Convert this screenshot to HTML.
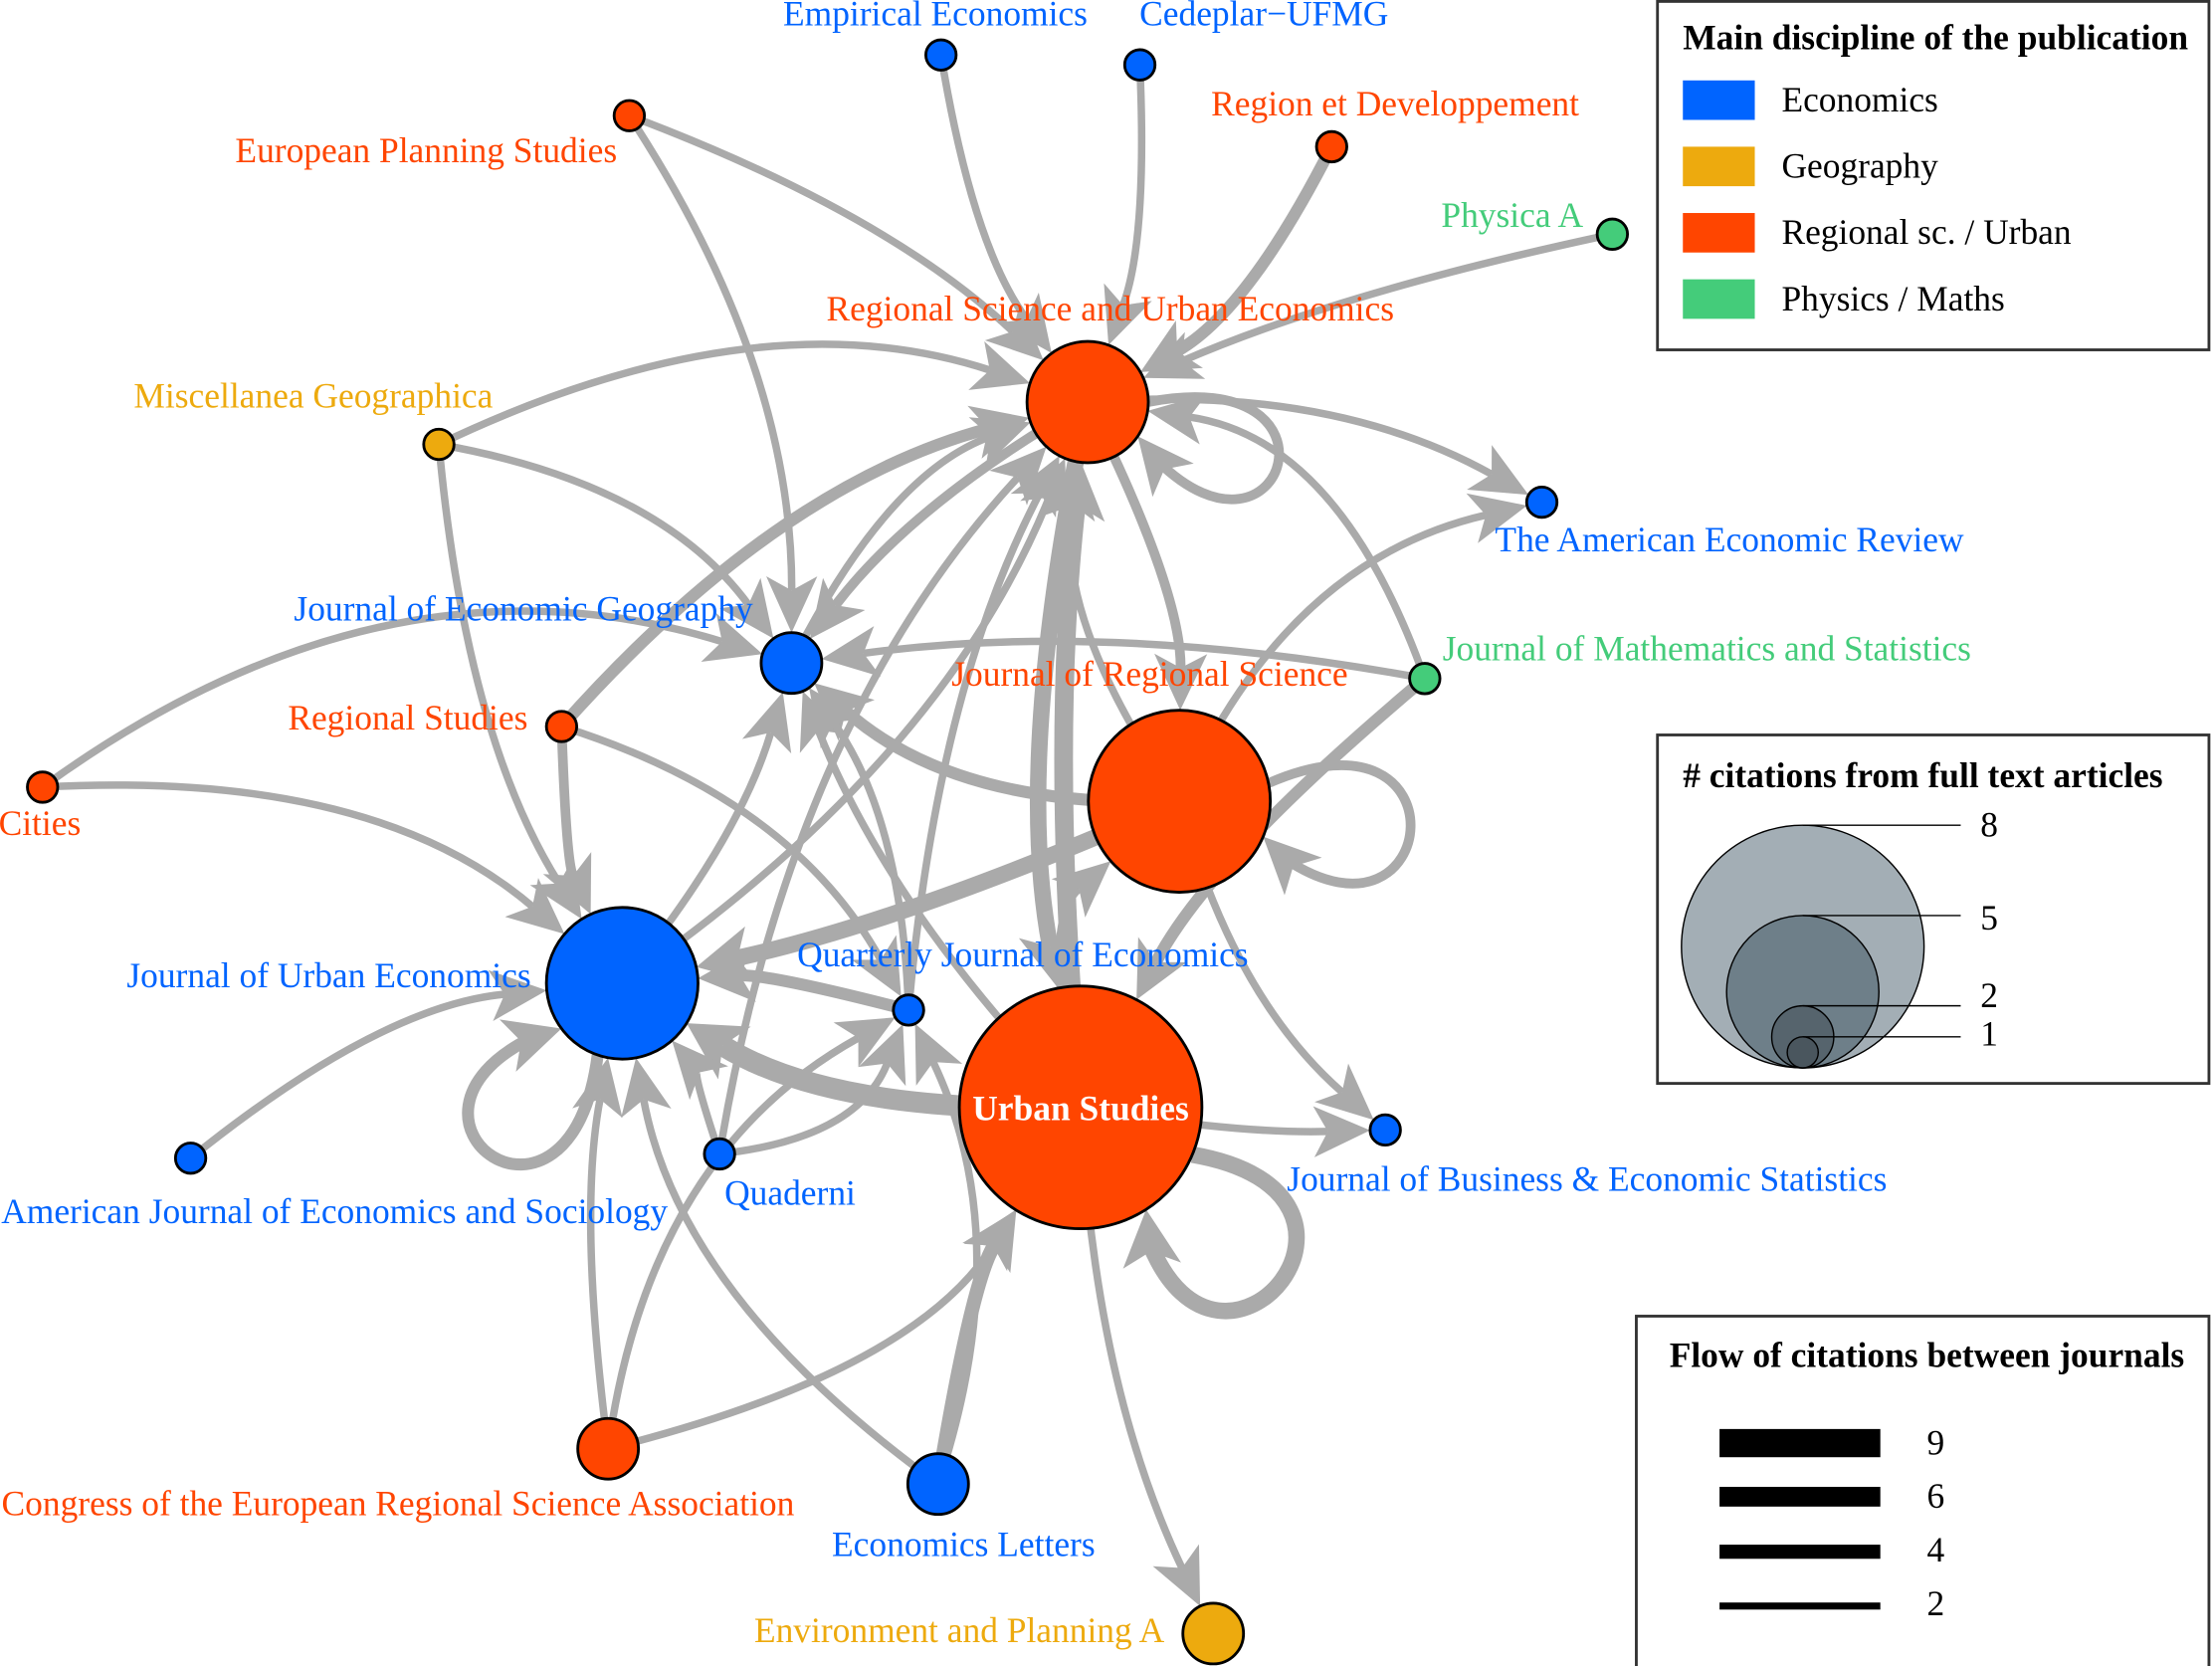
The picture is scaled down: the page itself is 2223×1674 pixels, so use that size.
<!DOCTYPE html>
<html><head><meta charset="utf-8"><style>
html,body{margin:0;padding:0;background:#fff}
svg{display:block}
text{font-family:"Liberation Serif",serif}
</style></head><body>
<svg id="chart" width="2223" height="1674" viewBox="0 0 1568 1181" xmlns="http://www.w3.org/2000/svg">
<g id="edges"></g>
<g id="nodes"></g>
<g id="labels"></g>
<g>
<rect x="1175" y="1" width="391" height="247" fill="#fff" stroke="#333" stroke-width="2"/>
<text x="1193" y="35" font-size="25" font-weight="bold">Main discipline of the publication</text>
<rect x="1193" y="57" width="51" height="28" fill="#0064ff"/><text x="1263" y="79" font-size="25">Economics</text>
<rect x="1193" y="104" width="51" height="28" fill="#edaa0e"/><text x="1263" y="126" font-size="25">Geography</text>
<rect x="1193" y="151" width="51" height="28" fill="#ff4500"/><text x="1263" y="173" font-size="25">Regional sc. / Urban</text>
<rect x="1193" y="198" width="51" height="28" fill="#44cc7a"/><text x="1263" y="220" font-size="25">Physics / Maths</text>
</g>
<g>
<rect x="1175" y="521" width="391" height="247" fill="#fff" stroke="#333" stroke-width="2"/>
<text x="1193" y="558" font-size="25" font-weight="bold"># citations from full text articles</text>
<circle cx="1278" cy="671" r="86" fill="#a3aeb5" stroke="#000" stroke-width="1"/>
<circle cx="1278" cy="703" r="54" fill="#6e7f89" stroke="#000" stroke-width="1"/>
<circle cx="1278" cy="735" r="22" fill="#56646d" stroke="#000" stroke-width="1"/>
<circle cx="1278" cy="746" r="11" fill="#4a565e" stroke="#000" stroke-width="1"/>
<g stroke="#000" stroke-width="1"><line x1="1278" y1="585" x2="1390" y2="585"/><line x1="1278" y1="649" x2="1390" y2="649"/><line x1="1278" y1="713" x2="1390" y2="713"/><line x1="1278" y1="735" x2="1390" y2="735"/></g>
<text x="1404" y="593" font-size="25">8</text><text x="1404" y="659" font-size="25">5</text><text x="1404" y="714" font-size="25">2</text><text x="1404" y="741" font-size="25">1</text>
</g>
<g>
<rect x="1160" y="933" width="406" height="260" fill="#fff" stroke="#333" stroke-width="2"/>
<text x="1366" y="969" font-size="25" font-weight="bold" text-anchor="middle">Flow of citations between journals</text>
<rect x="1219" y="1013" width="114" height="20" fill="#000"/><text x="1366" y="1031" font-size="25">9</text>
<rect x="1219" y="1054" width="114" height="14" fill="#000"/><text x="1366" y="1069" font-size="25">6</text>
<rect x="1219" y="1095" width="114" height="10" fill="#000"/><text x="1366" y="1107" font-size="25">4</text>
<rect x="1219" y="1136" width="114" height="5" fill="#000"/><text x="1366" y="1145" font-size="25">2</text>
</g>
</svg>
<script>
const nodeIds=["EmpEcon","Cedeplar","EPS","RegDev","PhysA","RSUE","Misc","AER","JEG","JMS","RS","Cities","JRS","JUE","QJE","US","Quad","AJES","JBES","CERSA","EL","EPA"];
const nodeNames=["Empirical Economics","Cedeplar\u2212UFMG","European Planning Studies","Region et Developpement","Physica A","Regional Science and Urban Economics","Miscellanea Geographica","The American Economic Review","Journal of Economic Geography","Journal of Mathematics and Statistics","Regional Studies","Cities","Journal of Regional Science","Journal of Urban Economics","Quarterly Journal of Economics","Urban Studies","Quaderni","American Journal of Economics and Sociology","Journal of Business & Economic Statistics","Congress of the European Regional Science Association","Economics Letters","Environment and Planning A"];
const nodeX=[667,808,446,944,1143,771,311,1093,561,1010,398,30,836,441,644,766,510,135,982,431,665,860];
const nodeY=[39,46,82,104,166,285,315,356,470,481,515,558,568,697,716,785,818,821,801,1027,1052,1158];
const nodeCites=[1,1,1,1,1,4,1,1,2,1,1,1,6,5,1,8,1,1,1,2,2,2];
const nodeDisc=["eco","eco","reg","reg","phy","reg","geo","eco","eco","phy","reg","reg","reg","eco","eco","reg","eco","eco","eco","reg","eco","geo"];
const labelX=[663,896,302,989,1072,787,222,1226,371,1210,289,28,815,233,725,766,560,237,1125,282,683,680];
const labelY=[18,18,115,82,161,227,289,391,440,468,517,592,486,700,685,794,854,867,844,1074,1103,1164];
const edgeFrom=["EmpEcon","Cedeplar","EPS","EPS","RegDev","PhysA","Misc","Misc","Misc","RSUE","RSUE","RSUE","RSUE","JEG","JMS","JMS","JMS","Cities","Cities","RS","RS","RS","JRS","JRS","JRS","JRS","JRS","JUE","JUE","QJE","US","US","US","US","US","US","QJE","QJE","Quad","Quad","Quad","AJES","CERSA","CERSA","CERSA","EL","EL","EL","JUE","JRS","US","RSUE"];
const edgeTo=["RSUE","RSUE","JEG","RSUE","RSUE","RSUE","RSUE","JEG","JUE","AER","JEG","JRS","US","RSUE","RSUE","JEG","US","JEG","JUE","RSUE","JUE","QJE","JEG","AER","JUE","JBES","RSUE","RSUE","JEG","JUE","JUE","JEG","RSUE","JBES","EPA","JRS","RSUE","JEG","JUE","QJE","RSUE","JUE","JUE","US","QJE","US","JUE","QJE","JUE","JRS","US","RSUE"];
const edgeWeight=[3,3,3,3,5,3,3,3,3,3,4,4,7,3,3,3,5,3,3,5,4,3,5,3,7,3,3,3,3,5,9,3,8,3,3,3,3,3,3,3,3,3,3,3,3,6,3,3,5,4,7,4];
const edgeBend=[0.12,-0.1,-0.15,-0.1,-0.15,0.05,-0.2,-0.2,0.12,-0.15,0.1,-0.12,0.1,-0.2,0.3,0.08,0.1,-0.25,-0.2,-0.15,0.1,-0.2,-0.2,-0.25,-0.05,0.15,-0.2,0.15,0.1,0.08,-0.15,-0.1,-0.05,0.05,0.1,-0.3,-0.1,0.15,0.1,0.3,-0.15,-0.15,-0.08,0.2,-0.25,-0.1,-0.2,0.2,0,0,0,0];
const colors={eco:"#0064ff",geo:"#edaa0e",reg:"#ff4500",phy:"#44cc7a"};
const NS="http://www.w3.org/2000/svg";
function rad(c){return 10.75*c;}
function idx(id){return nodeIds.indexOf(id);}
const eg=document.getElementById('edges'),ng=document.getElementById('nodes'),lg=document.getElementById('labels');
const sw=w=>1.6*w+0.5;
for(let i=0;i<edgeFrom.length;i++){
  const a=idx(edgeFrom[i]),b=idx(edgeTo[i]);
  const x1=nodeX[a],y1=nodeY[a],x2=nodeX[b],y2=nodeY[b];
  const w=sw(edgeWeight[i]);
  const p=document.createElementNS(NS,'path');
  let d,tipx,tipy,dx,dy;
  if(a===b){
    const r=rad(nodeCites[a]);
    const ang=a===idx("US")?0.7:(a===idx("JUE")?2.2:(a===idx("JRS")?0.1:0.3));
    const sx=x1+r*Math.cos(ang-0.3),sy=y1+r*Math.sin(ang-0.3);
    const ex=x1+(r+22)*Math.cos(ang+0.4),ey=y1+(r+22)*Math.sin(ang+0.4);
    const L=(r+110)/0.8;
    d=`M${sx},${sy} C${x1+L*Math.cos(ang-0.45)},${y1+L*Math.sin(ang-0.45)} ${x1+L*Math.cos(ang+0.45)},${y1+L*Math.sin(ang+0.45)} ${ex},${ey}`;
    tipx=x1+r*Math.cos(ang+0.3);tipy=y1+r*Math.sin(ang+0.3);dx=tipx-ex;dy=tipy-ey;
  }else{
    const mx=(x1+x2)/2,my=(y1+y2)/2,vx=x2-x1,vy=y2-y1;
    const cx=mx-vy*edgeBend[i],cy=my+vx*edgeBend[i];
    const r2=rad(nodeCites[b]);
    dx=x2-cx;dy=y2-cy;const dl=Math.hypot(dx,dy);
    tipx=x2-dx/dl*r2;tipy=y2-dy/dl*r2;
    const ex=tipx-dx/dl*30,ey=tipy-dy/dl*30;
    d=`M${x1},${y1} Q${cx},${cy} ${ex},${ey}`;
  }
  p.setAttribute('d',d);p.setAttribute('fill','none');p.setAttribute('stroke','#aaaaaa');p.setAttribute('stroke-width',w);
  
  
  eg.appendChild(p);
  const dl=Math.hypot(dx,dy),ux=dx/dl,uy=dy/dl,hl=40,hw=16+w*0.4;
  const bx=tipx-ux*hl,by=tipy-uy*hl;
  const h=document.createElementNS(NS,'polygon');
  h.setAttribute('points',`${tipx},${tipy} ${bx-uy*hw},${by+ux*hw} ${bx+ux*10},${by+uy*10} ${bx+uy*hw},${by-ux*hw}`);
  h.setAttribute('fill','#aaaaaa');
  
  
  eg.appendChild(h);
}
for(let i=0;i<nodeIds.length;i++){
  const c=document.createElementNS(NS,'circle');
  c.setAttribute('cx',nodeX[i]);c.setAttribute('cy',nodeY[i]);c.setAttribute('r',rad(nodeCites[i]));
  c.setAttribute('fill',colors[nodeDisc[i]]);c.setAttribute('stroke','#000');c.setAttribute('stroke-width',2);
  
  
  ng.appendChild(c);
  const t=document.createElementNS(NS,'text');
  t.setAttribute('x',labelX[i]);t.setAttribute('y',labelY[i]);t.setAttribute('text-anchor','middle');
  t.setAttribute('font-size',25);
  if(nodeIds[i]==="US"){t.setAttribute('fill','#fff');t.setAttribute('font-weight','bold');}
  else t.setAttribute('fill',colors[nodeDisc[i]]);
  t.textContent=nodeNames[i];
  
  
  lg.appendChild(t);
}
</script>
</body></html>
